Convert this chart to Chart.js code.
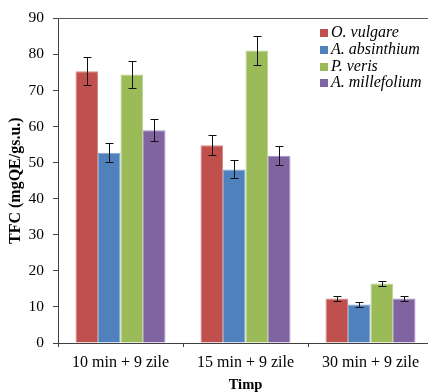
<!DOCTYPE html>
<html>
<head>
<meta charset="utf-8">
<script src="https://cdn.jsdelivr.net/npm/chart.js@4/dist/chart.umd.min.js"></script>
<style>
html,body{margin:0;padding:0;overflow:hidden;background:#fff;width:428px;height:392px;}
canvas{display:block;}
</style>
</head>
<body>
<canvas id="c" width="440" height="392" style="width:440px;height:392px"></canvas>
<script>
const categories = ['10 min + 9 zile', '15 min + 9 zile', '30 min + 9 zile'];
const seriesNames = ['O. vulgare', 'A. absinthium', 'P. veris', 'A. millefolium'];
const oVulgare = [75.3, 54.8, 12.3];
const oVulgareErr = [3.9, 2.8, 0.7];
const aAbsinthium = [52.7, 48.1, 10.7];
const aAbsinthiumErr = [2.6, 2.5, 0.6];
const pVeris = [74.4, 81.1, 16.5];
const pVerisErr = [3.7, 4.1, 0.8];
const aMillefolium = [59.0, 51.9, 12.3];
const aMillefoliumErr = [3.0, 2.6, 0.6];
const yTicks = [0, 10, 20, 30, 40, 50, 60, 70, 80, 90];
const colors = ['#C0504D', '#4F81BD', '#9BBB59', '#8064A2'];
const edgeColors = ['#D48886', '#86A7D2', '#BDD394', '#A892C0'];

const values = [oVulgare, aAbsinthium, pVeris, aMillefolium];
const errors = [oVulgareErr, aAbsinthiumErr, pVerisErr, aMillefoliumErr];

const SERIF = '"Liberation Serif", "Times New Roman", serif';

const errorBars = {
  id: 'errorBars',
  afterDatasetsDraw(chart) {
    const ctx = chart.ctx;
    const y = chart.scales.y;
    ctx.save();
    ctx.strokeStyle = '#111';
    ctx.lineWidth = 1;
    chart.data.datasets.forEach((ds, di) => {
      const meta = chart.getDatasetMeta(di);
      meta.data.forEach((bar, i) => {
        const v = ds.data[i], e = errors[di][i];
        const x = Math.round(bar.x) + 0.5;
        const yt = Math.round(y.getPixelForValue(v + e)) + 0.5;
        const yb = Math.round(y.getPixelForValue(v - e)) + 0.5;
        ctx.beginPath();
        ctx.moveTo(x, yt); ctx.lineTo(x, yb);
        ctx.moveTo(x - 4, yt); ctx.lineTo(x + 4, yt);
        ctx.moveTo(x - 4, yb); ctx.lineTo(x + 4, yb);
        ctx.stroke();
      });
    });
    ctx.restore();
  }
};

const frame = {
  id: 'frame',
  afterDraw(chart) {
    const ctx = chart.ctx, a = chart.chartArea;
    ctx.save();
    ctx.strokeStyle = '#595959';
    ctx.lineWidth = 1;
    ctx.beginPath();
    ctx.moveTo(a.left, Math.round(a.top) + 0.5);
    ctx.lineTo(a.right, Math.round(a.top) + 0.5);
    ctx.stroke();
    // legend
    ctx.font = 'italic 16px ' + SERIF;
    ctx.textBaseline = 'middle';
    ctx.textAlign = 'left';
    const ys = [33, 50, 66.5, 83];
    seriesNames.forEach((n, i) => {
      ctx.fillStyle = colors[i];
      ctx.fillRect(320, Math.round(ys[i] - 4), 8, 8);
      ctx.fillStyle = '#000';
      ctx.fillText(n, 331, ys[i]);
    });
    ctx.restore();
  }
};

function build() {
  new Chart(document.getElementById('c'), {
    type: 'bar',
    data: {
      labels: categories,
      datasets: seriesNames.map((n, i) => ({
        label: n,
        data: values[i],
        backgroundColor: colors[i],
        borderColor: edgeColors[i],
        borderWidth: 1,
        categoryPercentage: 0.72,
        barPercentage: 1.0
      }))
    },
    options: {
      responsive: false,
      devicePixelRatio: 1,
      animation: false,
      layout: { padding: { top: 15, right: 7, left: 0, bottom: 0 } },
      plugins: { legend: { display: false }, tooltip: { enabled: false } },
      scales: {
        x: {
          offset: true,
          grid: { offset: true, drawOnChartArea: false, drawTicks: true, tickLength: 4, color: '#404040' },
          border: { color: '#404040', width: 1 },
          ticks: { color: '#000', font: { family: SERIF, size: 16 }, padding: 6, maxRotation: 0 },
          title: { display: true, text: 'Timp', color: '#000', font: { family: SERIF, size: 14.5, weight: 'bold', lineHeight: 1 }, padding: { top: 0, bottom: 0 } },
          afterFit(s) { s.height = 49; }
        },
        y: {
          min: 0, max: 90,
          afterBuildTicks(s) { s.ticks = yTicks.map(v => ({ value: v })); },
          grid: { drawOnChartArea: false, drawTicks: true, tickLength: 5, color: '#404040' },
          border: { color: '#404040', width: 1 },
          ticks: { color: '#000', font: { family: SERIF, size: 15.5 }, padding: 9 },
          title: { display: true, text: 'TFC (mgQE/gs.u.)', color: '#000', font: { family: SERIF, size: 16, weight: 'bold', lineHeight: 1 }, padding: { top: 8, bottom: 0 } },
          afterFit(s) { s.width = 58; }
        }
      }
    },
    plugins: [errorBars, frame]
  });
}

const fontLoads = [
  '16px "Liberation Serif"',
  'italic 16px "Liberation Serif"',
  'bold 16px "Liberation Serif"'
].map(f => document.fonts.load(f).catch(() => null));
Promise.all(fontLoads).then(build, build);
</script>
</body>
</html>
